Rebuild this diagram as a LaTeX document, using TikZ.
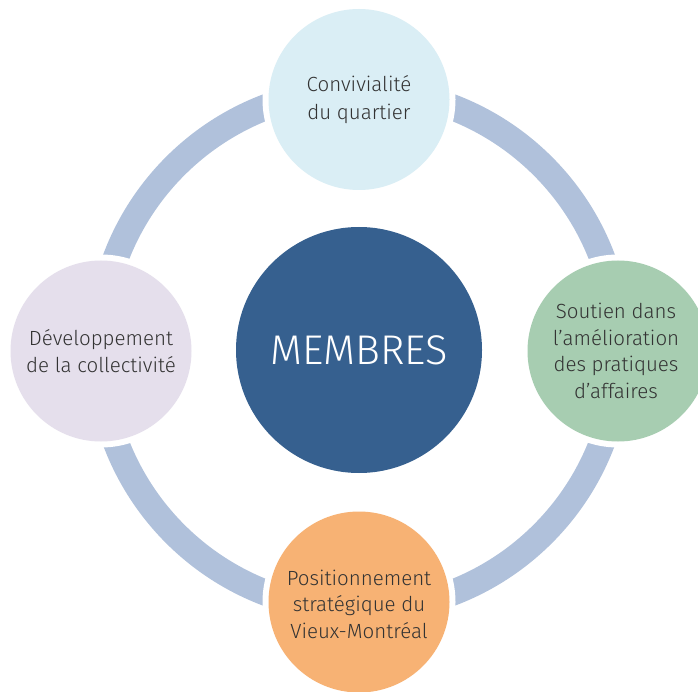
\documentclass[tikz,border=0pt]{standalone}
\usepackage{fontspec}
\setmainfont{Fira Sans Light}
\definecolor{ringc}{HTML}{B0C1DB}
\definecolor{centerc}{HTML}{36608F}
\definecolor{topc}{HTML}{DAEEF5}
\definecolor{leftc}{HTML}{E5DFEC}
\definecolor{rightc}{HTML}{A7CDB1}
\definecolor{botc}{HTML}{F7B274}
\definecolor{txtc}{HTML}{333333}
\tikzset{
  sat/.style={circle, minimum size=181pt, inner sep=0pt, preaction={draw=white, line width=12pt}},
  sattxt/.style={align=center, text=txtc, font=\fontsize{20.5}{27.5}\selectfont, inner sep=0pt},
  hub/.style={circle, minimum size=246pt, inner sep=0pt, fill=centerc, text=white, font=\fontsize{41.5}{46}\selectfont},
  ringline/.style={ringc, line width=26pt}
}
\begin{document}
\begin{tikzpicture}[x=1pt,y=-1pt]
\useasboundingbox (0,0) rectangle (698,692);
\coordinate (o) at (359,350);
\draw[ringline] (o) circle[radius=260pt];
\node[hub] (m) at (o) {MEMBRES};
\node[sat, fill=topc] (t) at (359,99.5) {};
\node[sattxt] (tt) at (t) {Convivialité\\du quartier};
\node[sat, fill=leftc] (l) at (101,351) {};
\node[sattxt] (lt) at (l) {Développement\\de la collectivité};
\node[sat, fill=rightc] (r) at (618,351) {};
\node[sattxt, font=\fontsize{20.5}{26.5}\selectfont] (rt) at (616,351) {Soutien dans\\l’amélioration\\des pratiques\\d’affaires};
\node[sat, fill=botc] (b) at (359,602) {};
\node[sattxt, font=\fontsize{20.5}{26.5}\selectfont] (bt) at (359,604) {Positionnement\\stratégique du\\Vieux-Montréal};
\end{tikzpicture}
\end{document}
